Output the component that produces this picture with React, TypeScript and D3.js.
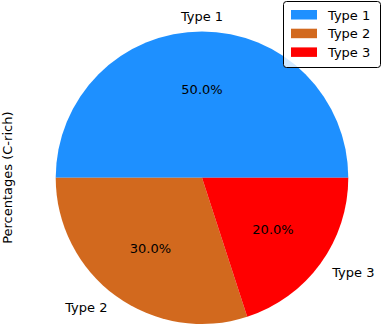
import { useEffect, useRef } from 'react';
import * as d3 from 'd3';

const categories = ['Type 1', 'Type 2', 'Type 3'];
const values = [50, 30, 20];
const colors = ['#1E90FF', '#D2691E', '#FF0000'];
const yLabel = 'Percentages (C-rich)';

const App = () => {
    const svgRef = useRef<SVGSVGElement>(null);

    useEffect(() => {
        const svg = d3.select(svgRef.current);
        svg.selectAll('*').remove();

        const width = 382;
        const height = 325;
        const cx = 202;
        const cy = 177.7;
        const r = 146.3;
        const font = 'DejaVu Sans, sans-serif';

        svg.attr('width', width).attr('height', height);
        svg.append('rect').attr('width', width).attr('height', height).attr('fill', '#fff');

        // matplotlib: start at 3 o'clock, counterclockwise
        const total = d3.sum(values);
        let acc = 0;
        const slices = values.map((v, i) => {
            const a0 = (acc / total) * 2 * Math.PI;
            acc += v;
            const a1 = (acc / total) * 2 * Math.PI;
            return { i, v, a0, a1 };
        });

        // d3 angles: 0 at 12 o'clock, clockwise -> theta_d3 = pi/2 - theta_mpl
        const arc = d3.arc<any>()
            .innerRadius(0)
            .outerRadius(r)
            .startAngle((d) => Math.PI / 2 - d.a1)
            .endAngle((d) => Math.PI / 2 - d.a0);

        const g = svg.append('g').attr('transform', `translate(${cx},${cy})`);

        g.selectAll('path')
            .data(slices)
            .join('path')
            .attr('d', arc)
            .attr('fill', (d) => colors[d.i]);

        // labels
        slices.forEach((d) => {
            const mid = (d.a0 + d.a1) / 2;
            const lx = 1.1 * r * Math.cos(mid);
            const ly = -1.1 * r * Math.sin(mid);
            g.append('text')
                .attr('x', lx)
                .attr('y', ly)
                .attr('dy', '0.35em')
                .attr('text-anchor', Math.abs(lx) < 1e-6 ? 'middle' : lx > 0 ? 'start' : 'end')
                .style('font-family', font)
                .style('font-size', '13px')
                .text(categories[d.i]);

            const px = 0.6 * r * Math.cos(mid);
            const py = -0.6 * r * Math.sin(mid);
            g.append('text')
                .attr('x', px)
                .attr('y', py)
                .attr('dy', '0.35em')
                .attr('text-anchor', 'middle')
                .style('font-family', font)
                .style('font-size', '13px')
                .text(`${((d.v / total) * 100).toFixed(1)}%`);
        });

        // y label
        svg.append('text')
            .attr('transform', `translate(12,${cy}) rotate(-90)`)
            .attr('text-anchor', 'middle')
            .style('font-family', font)
            .style('font-size', '13px')
            .text(yLabel);

        // legend
        const legend = svg.append('g');
        legend.append('rect')
            .attr('x', 283.5)
            .attr('y', 1.5)
            .attr('width', 97)
            .attr('height', 66)
            .attr('rx', 3)
            .attr('fill', '#fff')
            .attr('fill-opacity', 0.8)
            .attr('stroke', '#000')
            .attr('stroke-width', 1);

        categories.forEach((c, i) => {
            const y = 15 + i * 18.7;
            legend.append('rect')
                .attr('x', 291)
                .attr('y', y - 5)
                .attr('width', 26)
                .attr('height', 9.5)
                .attr('fill', colors[i]);
            legend.append('text')
                .attr('x', 328)
                .attr('y', y)
                .attr('dy', '0.35em')
                .style('font-family', font)
                .style('font-size', '13px')
                .text(c);
        });
    }, []);

    return <svg ref={svgRef} style={{ display: 'block', position: 'absolute', left: 0, top: 0 }} />;
};

export default App;
